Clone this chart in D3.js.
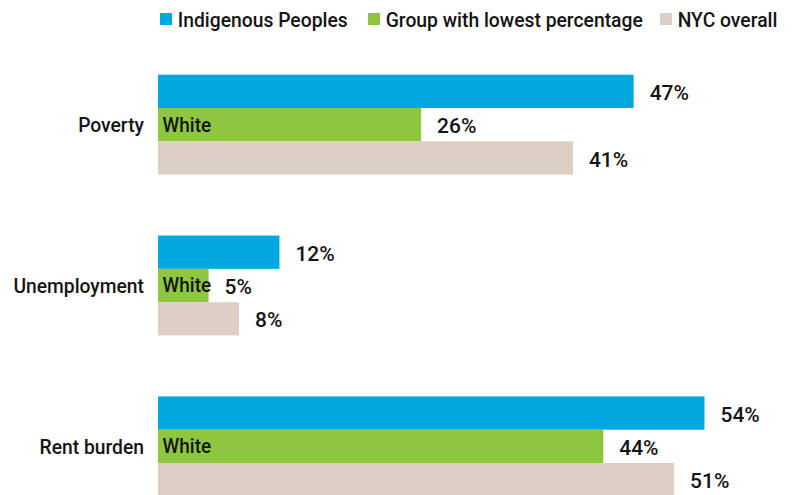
<!DOCTYPE html>
<html>
<head>
<meta charset="utf-8">
<script src="https://cdn.jsdelivr.net/npm/d3@7"></script>
<style>
  html, body { margin: 0; padding: 0; background: #fff; }
  svg text { font-family: Roboto, "Liberation Sans", sans-serif; font-weight: 500; fill: #141414; }
</style>
</head>
<body>
<svg id="chart" width="792" height="495"></svg>
<script>
const categories = ["Poverty", "Unemployment", "Rent burden"];
const seriesNames = ["Indigenous Peoples", "Group with lowest percentage", "NYC overall"];
const indigenous = [47, 12, 54];
const lowestGroup = [26, 5, 44];
const lowestGroupName = ["White", "White", "White"];
const nycOverall = [41, 8, 51];
const colors = ["#00a8df", "#8dc63f", "#ddcfc4"];

const svg = d3.select("#chart");

const x = d3.scaleLinear().domain([0, 60]).range([158, 158 + 607.2]);
const y = d3.scaleBand().domain(categories).range([74.7, 496.3]).paddingInner(0.379).paddingOuter(0);
const ySub = d3.scaleBand().domain(seriesNames).range([0, y.bandwidth()]);

const rows = categories.map((c, i) => ({
  cat: c,
  vals: [
    { s: seriesNames[0], v: indigenous[i] },
    { s: seriesNames[1], v: lowestGroup[i], name: lowestGroupName[i] },
    { s: seriesNames[2], v: nycOverall[i] }
  ]
}));

const fs = 21;
const g = svg.selectAll("g.cat").data(rows).join("g")
  .attr("class", "cat")
  .attr("transform", d => `translate(0,${y(d.cat)})`);

g.selectAll("rect").data(d => d.vals).join("rect")
  .attr("x", x(0))
  .attr("y", d => ySub(d.s))
  .attr("width", d => x(d.v) - x(0))
  .attr("height", ySub.bandwidth())
  .attr("fill", (d, i) => colors[i]);

g.selectAll("text.val").data(d => d.vals).join("text")
  .attr("class", "val")
  .attr("x", d => x(d.v) + 16)
  .attr("y", d => ySub(d.s) + ySub.bandwidth() / 2 + 8.7)
  .attr("font-size", fs)
  .text(d => d.v + "%");

g.selectAll("text.inner").data(d => d.vals.filter(v => v.name)).join("text")
  .attr("class", "inner")
  .attr("x", x(0) + 4.6)
  .attr("y", d => ySub(d.s) + ySub.bandwidth() / 2 + 7)
  .attr("font-size", fs)
  .text(d => d.name);

g.append("text")
  .attr("class", "catlabel")
  .attr("x", 144)
  .attr("y", y.bandwidth() / 2 + 7.4)
  .attr("text-anchor", "end")
  .attr("font-size", fs)
  .text(d => d.cat);

// Legend
const legendX = [160, 368, 660];
const lg = svg.selectAll("g.leg").data(seriesNames).join("g")
  .attr("class", "leg")
  .attr("transform", (d, i) => `translate(${legendX[i]},0)`);
lg.append("rect").attr("x", 0).attr("y", 13).attr("width", 12).attr("height", 12)
  .attr("fill", (d, i) => colors[i]);
lg.append("text").attr("class", "legtext").attr("x", 17.7).attr("y", 26.7).attr("font-size", fs).text(d => d);

// condense text horizontally to mimic the condensed typeface of the original
function condense(cls, refText, targetWidth) {
  const sel = svg.selectAll("text." + cls);
  const refNode = sel.filter(function () { return this.textContent === refText; }).node();
  const k = targetWidth / refNode.getComputedTextLength();
  sel.each(function () {
    const len = this.getComputedTextLength();
    d3.select(this).attr("textLength", len * k).attr("lengthAdjust", "spacingAndGlyphs");
  });
}
condense("legtext", "Indigenous Peoples", 170);
condense("catlabel", "Unemployment", 130.6);
condense("inner", "White", 48.5);
condense("val", "47%", 39.3);
</script>
</body>
</html>
